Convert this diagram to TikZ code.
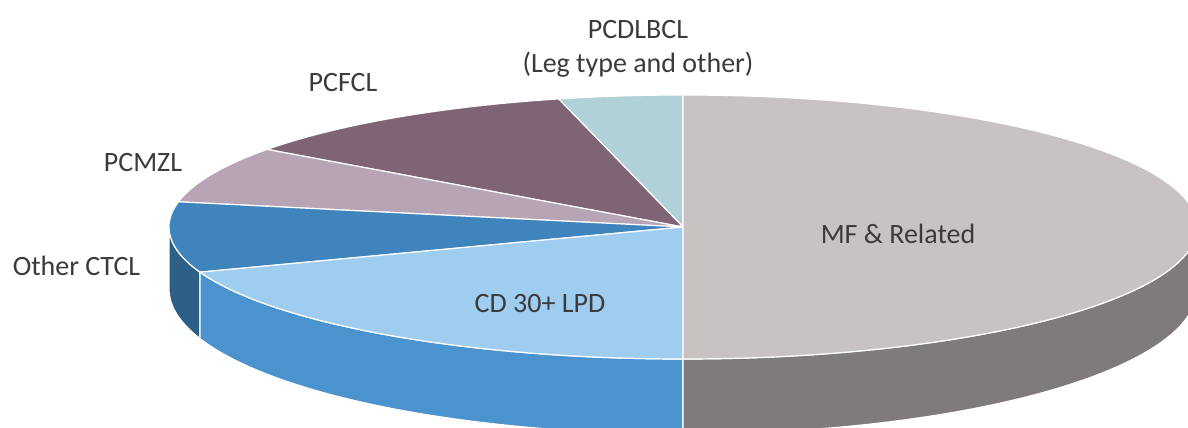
\documentclass[tikz,border=0pt]{standalone}
\usepackage{fontspec}
\setmainfont{Carlito}
\usepackage{tikz}
\usetikzlibrary{positioning}
\definecolor{mfgray}{RGB}{200,195,194}
\definecolor{mfgraydark}{RGB}{127,122,123}
\definecolor{cdblue}{RGB}{159,205,240}
\definecolor{cdbluedark}{RGB}{75,147,207}
\definecolor{ctclblue}{RGB}{63,132,188}
\definecolor{ctclbluedark}{RGB}{46,95,134}
\definecolor{mzlmauve}{RGB}{183,164,180}
\definecolor{fclplum}{RGB}{126,100,117}
\definecolor{dlbclteal}{RGB}{177,209,217}
\definecolor{labelgray}{RGB}{59,59,59}
\tikzstyle{slice} = [draw=white, line width=1.2pt, line join=round]
\tikzstyle{pielabel} = [font=\fontsize{28}{34}\selectfont, text=labelgray, inner sep=0pt, anchor=base]

\begin{document}
\begin{tikzpicture}[x=1pt,y=1pt]
\useasboundingbox (0,0) rectangle (1188,428);
\clip (0,0) rectangle (1188,428);
% Sides of the pie (front half)
\foreach \a/\b/\c in {180/200/ctclbluedark, 200/270/cdbluedark, 270/360/mfgraydark} {
    \filldraw[slice, fill=\c] ({683+514*cos(\a)},{201+132*sin(\a)})
        arc[start angle=\a, end angle=\b, x radius=514, y radius=132]
        -- ({683+514*cos(\b)},{139+145*sin(\b)})
        arc[start angle=\b, end angle=\a, x radius=514, y radius=145] -- cycle;
}
% Top of the pie
\foreach \a/\b/\c in {90/104/dlbclteal, 104/144/fclplum, 144/169/mzlmauve, 169/200/ctclblue, 200/270/cdblue, 270/450/mfgray} {
    \filldraw[slice, fill=\c] (683,201) -- ++(\a:514 and 132)
        arc[start angle=\a, end angle=\b, x radius=514, y radius=132] -- cycle;
}

% Labels
\node[pielabel] (mf) at (898,184) {MF \& Related};
\node[pielabel] (cd30) at (540,115) {CD 30+ LPD};
\node[pielabel] (ctcl) at (76.5,152) {Other CTCL};
\node[pielabel] (pcmzl) at (143,256) {PCMZL};
\node[pielabel] (pcfcl) at (343,336) {PCFCL};
\node[pielabel, anchor=center, align=center] (pcdlbcl) at (638,379.5) {PCDLBCL\\(Leg type and other)};
\end{tikzpicture}
\end{document}
